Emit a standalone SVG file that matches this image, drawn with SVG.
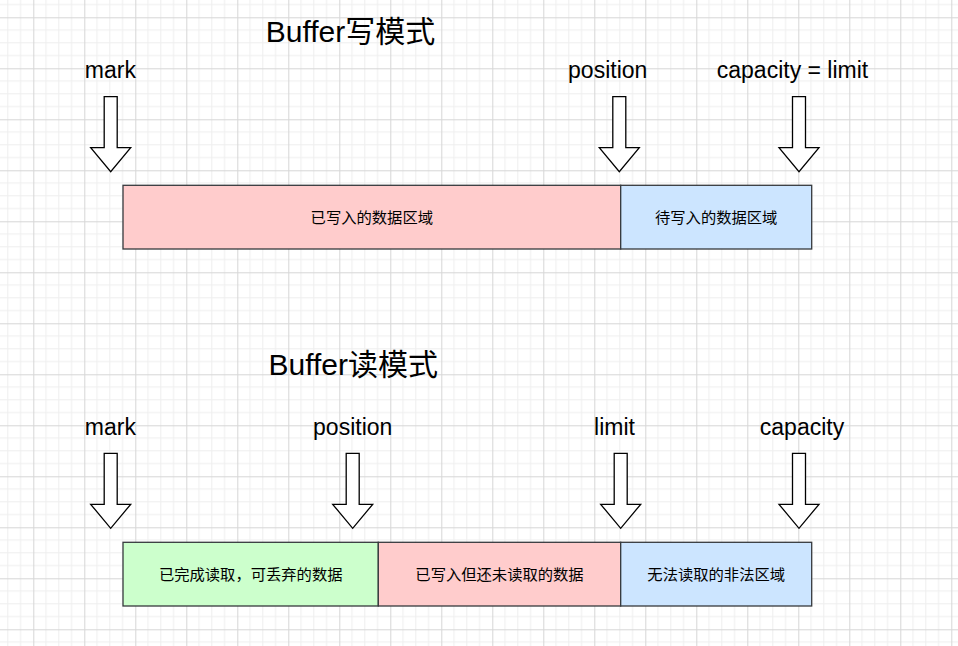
<svg xmlns="http://www.w3.org/2000/svg" width="958" height="646" viewBox="0 0 958 646">
  <defs>
    <pattern id="grid" patternUnits="userSpaceOnUse" x="33.3" y="17.3" width="51" height="51">
      <path d="M12.75 0V51M25.5 0V51M38.25 0V51M0 12.75H51M0 25.5H51M0 38.25H51" fill="none" stroke="#eeeeee" stroke-width="1"/>
      <path d="M0.5 0V51M0 0.5H51" fill="none" stroke="#d6d6d6" stroke-width="1"/>
    </pattern>
    <path id="darrow" d="M-6.5 0H6.5V51H20L0 75L-20 51H-6.5Z"/>
    <style>
      .arrow { fill: #ffffff; stroke: #000000; stroke-width: 1.3; stroke-linejoin: miter; }
      .cell { stroke: #36393d; stroke-width: 1.3; }
      .pink { fill: #ffcccc; }
      .blue { fill: #cce5ff; }
      .green { fill: #ccffcc; }
      .lbl { font-family: "Liberation Sans", "Noto Sans CJK SC", sans-serif; font-size: 23px; fill: #000000; text-anchor: middle; }
      .title { font-family: "Liberation Sans", "Noto Sans CJK SC", sans-serif; font-size: 30px; fill: #000000; text-anchor: middle; }
      .ctext { font-family: "Noto Sans CJK SC", "Liberation Sans", sans-serif; font-size: 15.3px; fill: #000000; text-anchor: middle; }
    </style>
  </defs>
  <rect x="0" y="0" width="958" height="646" fill="#ffffff"/>
  <rect x="0" y="0" width="958" height="646" fill="url(#grid)"/>

  <g id="title-write"><text class="title" x="350.5" y="41.7">Buffer写模式</text></g>
  <g id="label-w-mark"><text class="lbl" x="110.4" y="77.5">mark</text></g>
  <g id="label-w-position"><text class="lbl" x="607.7" y="77.5">position</text></g>
  <g id="label-w-capacity"><text class="lbl" x="792.5" y="77.5">capacity = limit</text></g>
  <g id="arrow-w-mark"><use href="#darrow" class="arrow" x="110.7" y="96.7"/></g>
  <g id="arrow-w-position"><use href="#darrow" class="arrow" x="619.3" y="96.7"/></g>
  <g id="arrow-w-capacity"><use href="#darrow" class="arrow" x="799" y="96.7"/></g>
  <g id="cell-w-written">
    <rect class="cell pink" x="123" y="185.3" width="497.7" height="63.7"/>
    <text class="ctext" x="371.8" y="223">已写入的数据区域</text>
  </g>
  <g id="cell-w-free">
    <rect class="cell blue" x="620.7" y="185.3" width="191" height="63.7"/>
    <text class="ctext" x="716.2" y="223">待写入的数据区域</text>
  </g>

  <g id="title-read"><text class="title" x="353.3" y="375">Buffer读模式</text></g>
  <g id="label-r-mark"><text class="lbl" x="110.4" y="434.7">mark</text></g>
  <g id="label-r-position"><text class="lbl" x="352.7" y="434.7">position</text></g>
  <g id="label-r-limit"><text class="lbl" x="614.5" y="434.7">limit</text></g>
  <g id="label-r-capacity"><text class="lbl" x="802" y="434.7">capacity</text></g>
  <g id="arrow-r-mark"><use href="#darrow" class="arrow" x="110.7" y="453.3"/></g>
  <g id="arrow-r-position"><use href="#darrow" class="arrow" x="352.7" y="453.3"/></g>
  <g id="arrow-r-limit"><use href="#darrow" class="arrow" x="620.7" y="453.3"/></g>
  <g id="arrow-r-capacity"><use href="#darrow" class="arrow" x="799" y="453.3"/></g>
  <g id="cell-r-read">
    <rect class="cell green" x="123" y="542.3" width="255.3" height="63.7"/>
    <text class="ctext" x="250.7" y="579.8">已完成读取，可丢弃的数据</text>
  </g>
  <g id="cell-r-unread">
    <rect class="cell pink" x="378.3" y="542.3" width="242.4" height="63.7"/>
    <text class="ctext" x="499.5" y="579.8">已写入但还未读取的数据</text>
  </g>
  <g id="cell-r-invalid">
    <rect class="cell blue" x="620.7" y="542.3" width="191" height="63.7"/>
    <text class="ctext" x="716.2" y="579.8">无法读取的非法区域</text>
  </g>
  <g id="connectors"/>
</svg>
